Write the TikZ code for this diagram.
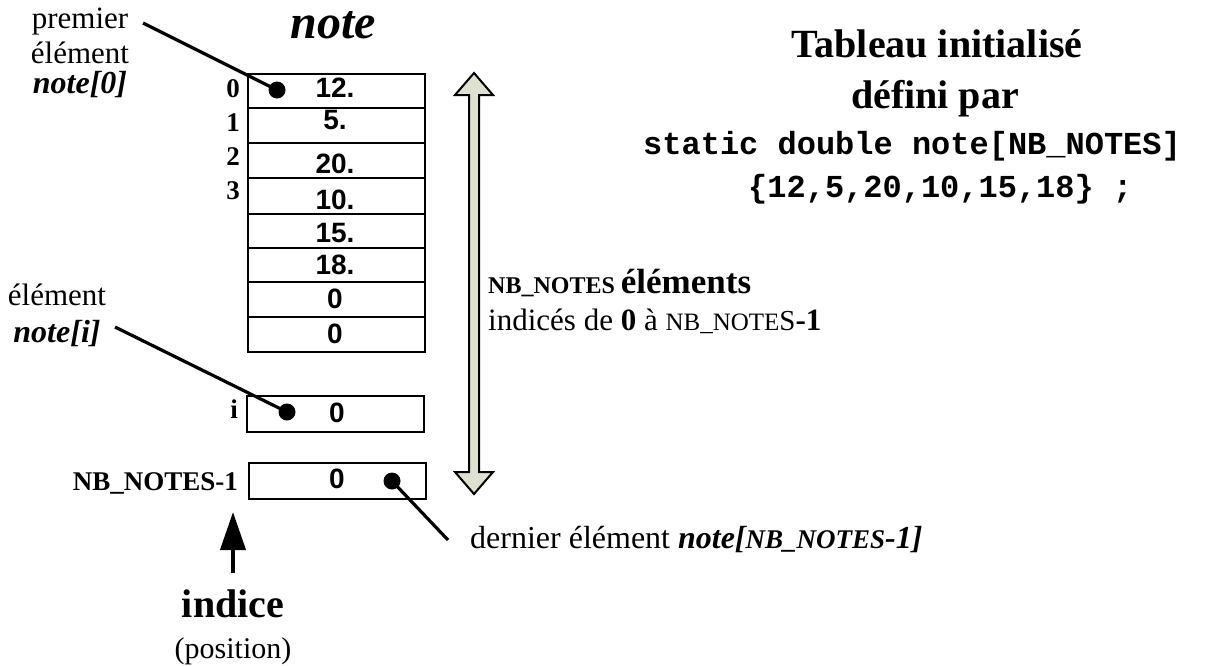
\documentclass[tikz,border=0pt]{standalone}
\usepackage{fontspec}
\setmainfont{Liberation Serif}
\newfontfamily\arialf{Liberation Sans}
\newfontfamily\courf{Liberation Mono}
\usetikzlibrary{arrows.meta}
\newcommand\fsz[1]{\fontsize{#1}{#1}\selectfont}
\definecolor{arrowfill}{RGB}{221,225,205}
\begin{document}
\begin{tikzpicture}[x=1pt,y=-1pt,
  cellbox/.style={draw, line width=2pt, minimum width=177pt, minimum height=#1, inner sep=0pt},
  val/.style={font=\arialf\bfseries\fsz{28}, anchor=base, inner sep=0pt},
  idx/.style={font=\bfseries\fsz{27}, anchor=base east, inner sep=0pt},
  txt/.style={font=\fsz{31}, anchor=base, inner sep=0pt},
  dotn/.style={circle, fill=black, minimum size=17pt, inner sep=0pt},
  lead/.style={line width=3.2pt},
  dbl/.style={draw, line width=2pt, fill=arrowfill, line join=miter}]
\useasboundingbox (0,0) rectangle (1215,665);

% title
\node[font=\bfseries\itshape\fsz{48}, anchor=base, inner sep=0pt] (title) at (333,38) {note};

% cells
\node[cellbox=34pt] (c0) at (336.5,91) {};
\node[cellbox=35pt] (c1) at (336.5,125.5) {};
\node[cellbox=35pt] (c2) at (336.5,160.5) {};
\node[cellbox=36pt] (c3) at (336.5,196) {};
\node[cellbox=34pt] (c4) at (336.5,231) {};
\node[cellbox=34pt] (c5) at (336.5,265) {};
\node[cellbox=35pt] (c6) at (336.5,299.5) {};
\node[cellbox=35pt] (c7) at (336.5,334.5) {};
\node[cellbox=36pt] (ci) at (335,414) {};
\node[cellbox=36pt] (cn) at (337,481) {};

% values
\node[val] (v0) at (335,97) {12.};
\node[val] (v1) at (335,129) {5.};
\node[val] (v2) at (335,173) {20.};
\node[val] (v3) at (335,209) {10.};
\node[val] (v4) at (335,242) {15.};
\node[val] (v5) at (335,274) {18.};
\node[val] (v6) at (335,308) {0};
\node[val] (v7) at (335,343) {0};
\node[val] (vi) at (337,422) {0};
\node[val] (vn) at (337,488) {0};

% indices
\node[idx] (i0) at (240,97) {0};
\node[idx] (i1) at (240,131) {1};
\node[idx] (i2) at (240,165) {2};
\node[idx] (i3) at (240,199) {3};
\node[idx] (ii) at (238,418) {i};
\node[idx] (in) at (238,490) {NB\_NOTES-1};

% dots
\node[dotn] (d0) at (277,90) {};
\node[dotn] (di) at (287,412) {};
\node[dotn] (dn) at (392,481) {};

% left labels
\node[txt] (p1) at (80,28) {premier};
\node[txt] (p2) at (80,63) {élément};
\node[txt, font=\bfseries\itshape\fsz{32}] (p3) at (80,93) {note[0]};
\node[txt] (e1) at (57,305) {élément};
\node[txt, font=\bfseries\itshape\fsz{32}] (e2) at (57,342) {note[i]};

% leader lines
\coordinate (l0) at (143,23);
\coordinate (li) at (115,327);
\coordinate (ln) at (448,540);
\draw[lead] (l0) -- (d0.center);
\draw[lead] (li) -- (di.center);
\draw[lead] (dn.center) -- (ln);

% last element label
\node[font=\fsz{32}, anchor=base west, inner sep=0pt] (last) at (470,548)
  {dernier élément {\bfseries\itshape note[{\fsz{27}NB\_NOTES}-1]}};

% index arrow
\coordinate (ia) at (233,573);
\node[font=\bfseries\fsz{40}, anchor=base, inner sep=0pt] (indice) at (233,617) {indice};
\node[txt, font=\fsz{30}] (pos) at (233,658) {(position)};
\draw[line width=4pt, -{Triangle[length=38pt,width=25pt]}] (ia) -- (233,512);

% double arrow
\draw[dbl] (469,95) -- (455,95) -- (474,73) -- (493,95) -- (479,95) -- (479,472)
  -- (493,472) -- (474,494) -- (455,472) -- (469,472) -- cycle;

% count label
\node[font=\bfseries, anchor=base west, inner sep=0pt] (cnt) at (488,293)
  {\fsz{24}NB\_NOTES {\fsz{35}éléments}};
\node[font=\fsz{31}, anchor=base west, inner sep=0pt] (rng) at (488,330)
  {indicés de \textbf{0} à {\fsz{25}NB\_NOTE}{\fsz{29}S}\textbf{-1}};

% right title
\node[font=\bfseries\fsz{40}, anchor=base, inner sep=0pt] (t1) at (937,57) {Tableau initialisé};
\node[font=\bfseries\fsz{40}, anchor=base, inner sep=0pt] (t2) at (935,108) {défini par};
\node[font=\courf\bfseries\fsz{32}, anchor=base west, inner sep=0pt] (t3) at (643,154) {static double note[NB\_NOTES]};
\node[font=\courf\bfseries\fsz{32}, anchor=base west, inner sep=0pt] (t4) at (748,197) {\{12,5,20,10,15,18\} ;};
\end{tikzpicture}
\end{document}
